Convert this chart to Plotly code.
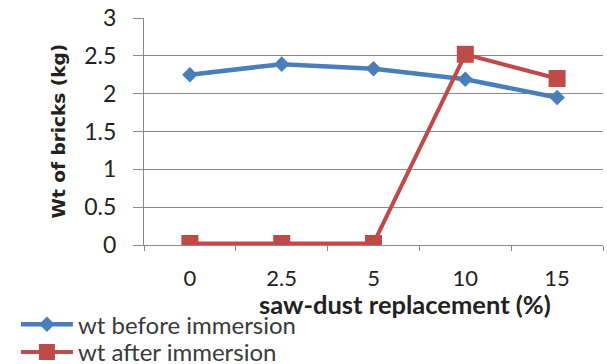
import plotly.graph_objects as go

categories = ["0", "2.5", "5", "10", "15"]
wt_before = [2.25, 2.39, 2.33, 2.19, 1.95]
wt_after = [0.02, 0.02, 0.02, 2.52, 2.20]
y_ticks = [0, 0.5, 1, 1.5, 2, 2.5, 3]

LATO = "Lato, sans-serif"
DEJAVU = "DejaVu Sans, sans-serif"
GRID = "#8a8a8a"
TXT = "#222222"

fig = go.Figure()
fig.add_trace(go.Scatter(
    x=categories, y=wt_before, name="wt before immersion",
    mode="lines+markers", legend="legend",
    line=dict(color="#4A7EBB", width=4.5),
    marker=dict(symbol="diamond", size=12, color="#4A7EBB"),
))
fig.add_trace(go.Scatter(
    x=categories, y=wt_after, name="wt after immersion",
    mode="lines+markers", legend="legend2",
    line=dict(color="#BE4B48", width=4),
    marker=dict(symbol="square", size=17, color="#BE4B48"),
))

legend_common = dict(
    orientation="v", x=-0.279, xanchor="left", yanchor="top",
    font=dict(family=LATO, size=24, color="#3a3a3a"), itemwidth=52,
    bgcolor="rgba(0,0,0,0)",
)

fig.update_layout(
    width=607, height=364,
    margin=dict(l=143.5, r=4, t=18, b=119, autoexpand=False),
    paper_bgcolor="white", plot_bgcolor="white",
    font=dict(family=LATO, size=23, color=TXT),
    showlegend=True,
    legend=dict(y=-0.252, **legend_common),
    legend2=dict(y=-0.374, **legend_common),
    xaxis=dict(
        type="category", range=[-0.5, 4.5],
        showline=True, linecolor=GRID, linewidth=1,
        ticks="outside", tickson="boundaries", ticklen=5, tickcolor=GRID,
        showgrid=False, ticklabelstandoff=14,
        tickfont=dict(family=LATO, size=22, color=TXT),
    ),
    yaxis=dict(
        range=[0, 3], tickvals=y_ticks, ticktext=[f"{v:g}" for v in y_ticks],
        showline=True, linecolor=GRID, linewidth=1,
        ticks="outside", ticklen=10, tickcolor=GRID,
        showgrid=True, gridcolor=GRID, gridwidth=1,
        zeroline=False, ticklabelstandoff=12,
        tickfont=dict(family=LATO, size=23, color=TXT),
    ),
    annotations=[
        dict(text="<b>saw-dust replacement (%)</b>", xref="paper", yref="paper",
             x=0.569, y=-0.262, xanchor="center", yanchor="middle",
             showarrow=False, font=dict(family=LATO, size=25.5, color=TXT)),
        dict(text="<b>Wt of bricks (kg)</b>", xref="paper", yref="paper",
             x=0, y=0.5, xshift=-86, xanchor="center", yanchor="middle",
             textangle=-90, showarrow=False,
             font=dict(family=DEJAVU, size=18.5, color=TXT)),
    ],
)

fig.write_html("out.html")
